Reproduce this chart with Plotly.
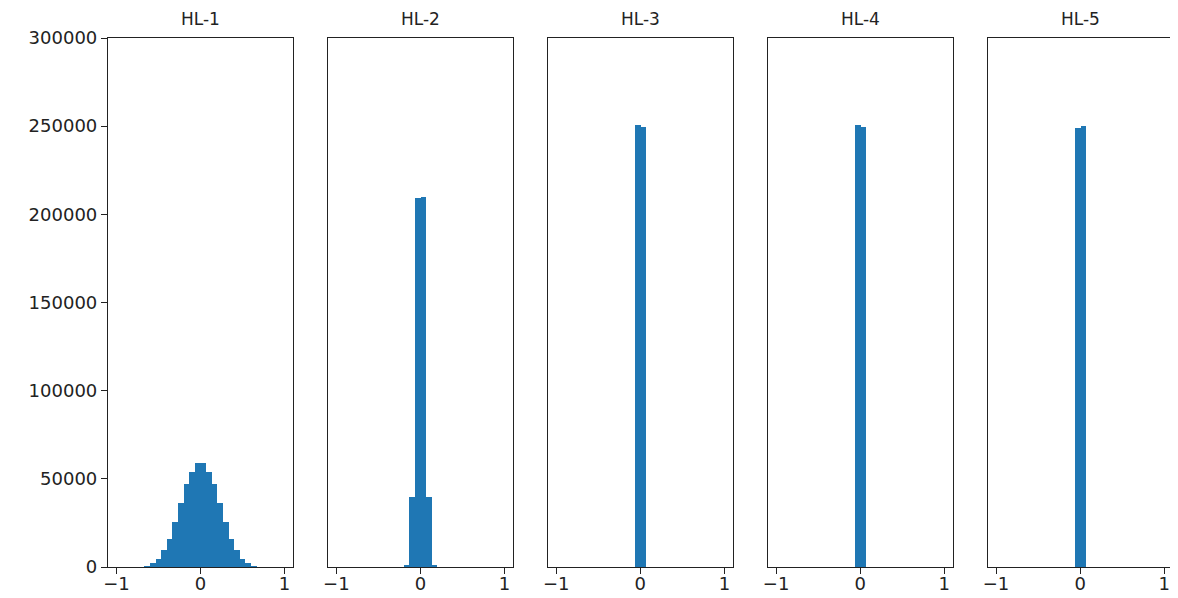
import numpy as np
import plotly.graph_objects as go

# ---- data (30 bins over [-1, 1]) ----
bin_range = (-1.0, 1.0)
n_bins = 30
titles = ["HL-1", "HL-2", "HL-3", "HL-4", "HL-5"]

hl1 = [0, 0, 0, 0, 0, 200, 2100, 4400, 9600, 16000, 25700, 36500, 46900, 54000, 58800,
       58800, 54000, 46900, 36500, 25700, 16000, 9600, 4400, 2100, 200, 0, 0, 0, 0, 0]
hl2 = [0, 0, 0, 0, 0, 0, 0, 0, 0, 0, 0, 0, 1100, 39500, 209200,
       209800, 39500, 1100, 0, 0, 0, 0, 0, 0, 0, 0, 0, 0, 0, 0]
hl3 = [0] * 14 + [250600, 249500] + [0] * 14
hl4 = [0] * 14 + [250600, 249600] + [0] * 14
hl5 = [0] * 14 + [249200, 250300] + [0] * 14
layers = [hl1, hl2, hl3, hl4, hl5]

x_tickvals = [-1, 0, 1]
x_ticktext = ["\u22121", "0", "1"]
y_tickvals = [0, 50000, 100000, 150000, 200000, 250000, 300000]

# ---- figure ----
OFF = 8  # page body margin
W, H = 1178 - OFF, 598 - OFF
edges = np.linspace(bin_range[0], bin_range[1], n_bins + 1)
centers = (edges[:-1] + edges[1:]) / 2
widths = np.diff(edges)

fig = go.Figure()
top_px, bot_px = 38 - OFF, 567 - OFF
ydom = [(H - bot_px) / H, (H - top_px) / H]
font = dict(family="DejaVu Sans", size=18, color="#222222")

for i, (name, counts) in enumerate(zip(titles, layers)):
    n = i + 1
    xa = "x" if n == 1 else f"x{n}"
    ya = "y" if n == 1 else f"y{n}"
    fig.add_trace(go.Bar(x=centers, y=counts, width=widths, marker=dict(color="#1f77b4", line=dict(width=0)),
                         xaxis=xa, yaxis=ya, showlegend=False, hoverinfo="x+y"))
    left = 108 + 219.9 * i - OFF
    right = 293 + 219.9 * i - OFF
    xdom = [left / W, right / W]
    xkey = "xaxis" if n == 1 else f"xaxis{n}"
    ykey = "yaxis" if n == 1 else f"yaxis{n}"
    fig.layout[xkey] = dict(domain=xdom, anchor=ya, range=[-1.1, 1.1], tickvals=x_tickvals, ticktext=x_ticktext,
                            ticks="outside", ticklen=6, tickwidth=1.2, tickcolor="#222", showline=True,
                            linecolor="#222", linewidth=1.2, mirror=True, showgrid=False, zeroline=False,
                            tickfont=font, ticklabelstandoff=-6, automargin=False, fixedrange=True)
    ydict = dict(domain=ydom, anchor=xa, range=[0, 300000], showline=True, linecolor="#222",
                 linewidth=1.2, mirror=True, showgrid=False, zeroline=False, automargin=False, fixedrange=True)
    if n == 1:
        ydict.update(tickvals=y_tickvals, ticks="outside", ticklen=6, tickwidth=1.2, tickcolor="#222",
                     tickfont=font, tickformat="d")
    else:
        ydict.update(showticklabels=False, ticks="")
    fig.layout[ykey] = ydict
    fig.add_annotation(text=name, x=(left + right) / 2 / W, y=(H - (19 - OFF)) / H, xref="paper", yref="paper",
                       xanchor="center", yanchor="middle", showarrow=False,
                       font=dict(family="DejaVu Sans", size=17, color="#222222"))

fig.update_layout(width=W, height=H, margin=dict(l=0, r=0, t=0, b=0), bargap=0,
                  plot_bgcolor="white", paper_bgcolor="white")

fig.write_html("out.html")
